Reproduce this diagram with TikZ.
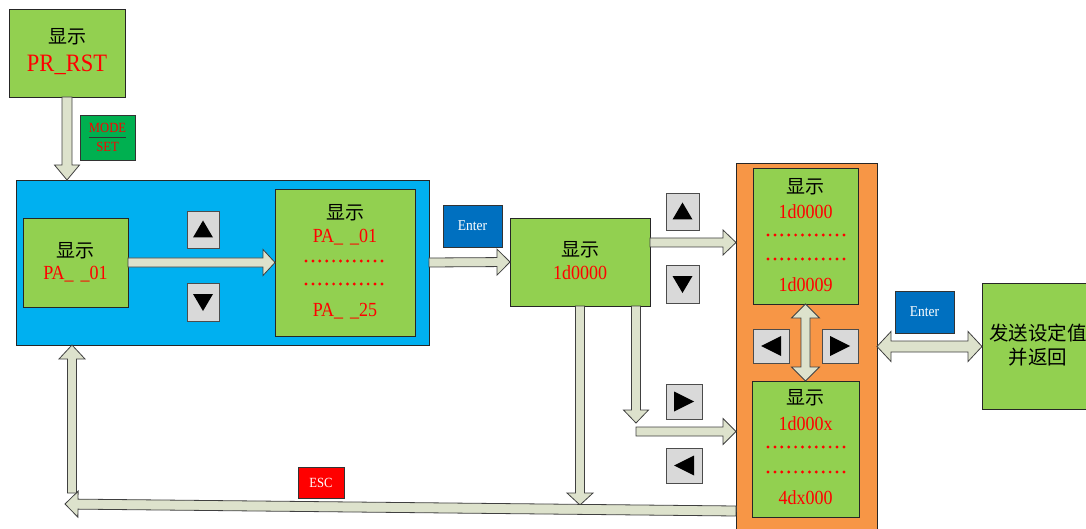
\documentclass[tikz,border=0pt]{standalone}
\usepackage{fontspec}
\setmainfont{Liberation Serif}[FakeStretch=0.9]
\newfontfamily\cjk{Noto Sans CJK SC}
\usetikzlibrary{calc,fit}
\definecolor{boxgreen}{HTML}{92D050}
\definecolor{bigblue}{HTML}{00B0F0}
\definecolor{bigorange}{HTML}{F79646}
\definecolor{btngray}{HTML}{D9D9D9}
\definecolor{enterblue}{HTML}{0070C0}
\definecolor{modegreen}{HTML}{00B050}
\definecolor{arrowfill}{RGB}{221,226,204}
\definecolor{txtred}{HTML}{FF0000}
\newcommand\fs[1]{\fontsize{#1}{#1}\selectfont}
\newcommand\gap{\hspace{0.35em}}
% block arrow: start, end, half shaft, half head, head length
\newcommand\blockarrow[5]{%
  \coordinate (bs) at (#1); \coordinate (be) at (#2);
  \coordinate (bh) at ($(be)!#5!(bs)$);
  \filldraw[arr] ($(bs)!#3!90:(be)$) -- ($(bh)!#3!90:(be)$) -- ($(bh)!#4!90:(be)$)
    -- (be) -- ($(bh)!#4!-90:(be)$) -- ($(bh)!#3!-90:(be)$) -- ($(bs)!#3!-90:(be)$) -- cycle;}
% double block arrow
\newcommand\dblockarrow[5]{%
  \coordinate (bs) at (#1); \coordinate (be) at (#2);
  \coordinate (bha) at ($(bs)!#5!(be)$);
  \coordinate (bhb) at ($(be)!#5!(bs)$);
  \filldraw[arr] (bs) -- ($(bha)!#4!90:(be)$) -- ($(bha)!#3!90:(be)$) -- ($(bhb)!#3!90:(be)$)
    -- ($(bhb)!#4!90:(be)$) -- (be) -- ($(bhb)!#4!-90:(be)$) -- ($(bhb)!#3!-90:(be)$)
    -- ($(bha)!#3!-90:(be)$) -- ($(bha)!#4!-90:(be)$) -- cycle;}
\tikzset{
  panel/.style={draw=black!85, line width=0.9pt, inner sep=0pt, outer sep=0pt},
  greenbox/.style={panel, fill=boxgreen},
  btn/.style={draw=black!70, fill=btngray, line width=0.9pt, inner sep=0pt},
  keybox/.style={draw=black!80, line width=0.8pt, inner sep=0pt, text=white},
  cn/.style={font=\cjk\fs{19}, inner sep=0pt},
  rd/.style={font=\fs{20}, text=txtred, inner sep=0pt},
  arr/.style={fill=arrowfill, draw=black!75, line width=0.8pt, line join=miter},
  dotrow/.style={draw=txtred, line width=3.2pt, line cap=round, dash pattern=on 0pt off 6.9pt},
  tri/.style={fill=black},
}
\begin{document}
\begin{tikzpicture}[x=1pt,y=-1pt]
\useasboundingbox (0,0) rectangle (1086,529);
\clip (0,0) rectangle (1086,529);

% containers
\node[panel, fill=bigblue, fit={(16,180) (429,345)}] (blue) {};
\node[panel, fill=bigorange, fit={(736,163) (877,545)}] (orange) {};

% top box
\node[greenbox, fit={(9,9) (125,97)}] (prrst) {};
\node[cn] (prrstA) at (67,37) {显示};
\node[rd, font=\fs{25}] (prrstB) at (67,65) {PR\_RST};
\node[panel, fill=modegreen, draw=black!80, fit={(80,115) (135,160)}] (mode) {};
\node[text=txtred, font=\fs{14}, inner sep=0pt] (modeA) at (107.5,128) {MODE};
\node[text=txtred, font=\fs{14}, inner sep=0pt] (modeB) at (107.5,147) {SET};
\draw[black!80, line width=0.8pt] (89,137.5) -- (126,137.5);

% blue content
\node[greenbox, fit={(23,218) (128,307)}] (box1) {};
\node[cn] (box1A) at (75.5,251) {显示};
\node[rd] (box1B) at (75.5,274) {PA\_\gap\_01};
\node[greenbox, fit={(275,189) (415,336)}] (box2) {};
\node[cn] (box2A) at (345,213) {显示};
\node[rd] (box2B) at (345,237) {PA\_\gap\_01};
\draw[dotrow] (306,261) -- (385,261);
\draw[dotrow] (306,284) -- (385,284);
\node[rd] (box2C) at (345,311) {PA\_\gap\_25};
\node[btn, fit={(187,211) (219,248)}] (bUp1) {};
\fill[tri] (bUp1.center) ++(0,-9) -- ++(10,17) -- ++(-20,0) -- cycle;
\node[btn, fit={(187,283) (219,321)}] (bDn1) {};
\fill[tri] (bDn1.center) ++(0,9) -- ++(10,-17) -- ++(-20,0) -- cycle;

% 1d0000 box
\node[greenbox, fit={(510,218) (650,306)}] (d0) {};
\node[cn] (d0A) at (580,250) {显示};
\node[rd] (d0B) at (580,273) {1d0000};
\node[keybox, fill=enterblue, fit={(443,205) (502,247)}] (enter1) {};
\node[text=white, font=\fs{15}, inner sep=0pt] (enter1t) at (enter1.center) {Enter};
\node[btn, fit={(666,193) (699,230)}] (bUp2) {};
\fill[tri] (bUp2.center) ++(0,-9) -- ++(10,17) -- ++(-20,0) -- cycle;
\node[btn, fit={(666,265) (699,303)}] (bDn2) {};
\fill[tri] (bDn2.center) ++(0,9) -- ++(10,-17) -- ++(-20,0) -- cycle;
\node[btn, fit={(666,384) (702,419)}] (bRt1) {};
\fill[tri] (bRt1.center) ++(10,0) -- ++(-20,-10) -- ++(0,20) -- cycle;
\node[btn, fit={(666,448) (702,483)}] (bLt1) {};
\fill[tri] (bLt1.center) ++(-10,0) -- ++(20,-10) -- ++(0,20) -- cycle;

% orange content
\node[greenbox, fit={(753,168) (858,304)}] (tg) {};
\node[cn] (tgA) at (805.5,187) {显示};
\node[rd] (tgB) at (805.5,212) {1d0000};
\draw[dotrow] (768,235) -- (846,235);
\draw[dotrow] (768,259) -- (846,259);
\node[rd] (tgC) at (805.5,285) {1d0009};
\node[greenbox, fit={(752,381) (859,517)}] (bg) {};
\node[cn] (bgA) at (805.5,398) {显示};
\node[rd] (bgB) at (805.5,424) {1d000x};
\draw[dotrow] (768,447) -- (846,447);
\draw[dotrow] (768,472) -- (846,472);
\node[rd] (bgC) at (805.5,498) {4dx000};
\node[btn, fit={(753,329) (789,363)}] (bLt2) {};
\fill[tri] (bLt2.center) ++(-10,0) -- ++(20,-10) -- ++(0,20) -- cycle;
\node[btn, fit={(822,329) (858,363)}] (bRt2) {};
\fill[tri] (bRt2.center) ++(10,0) -- ++(-20,-10) -- ++(0,20) -- cycle;

% final
\node[keybox, fill=enterblue, fit={(895,291) (954,333)}] (enter2) {};
\node[text=white, font=\fs{15}, inner sep=0pt] (enter2t) at (enter2.center) {Enter};
\node[greenbox, fit={(982,283) (1094,409)}] (final) {};
\node[cn, font=\cjk\fs{19.5}] (finalA) at (1038,333) {发送设定值};
\node[cn, font=\cjk\fs{19.5}] (finalB) at (1038,357) {并返回};

% ESC
\node[keybox, fill=txtred, fit={(298,467) (344,498)}] (esc) {};
\node[text=white, font=\fs{14}, inner sep=0pt] (esct) at (esc.center) {ESC};

% helper coordinates
\coordinate (c580top) at (d0.south -| 580,0);
\coordinate (c580bot) at (580,505);
\coordinate (c636top) at (d0.south -| 636,0);
\coordinate (c636bot) at (636,423);
\coordinate (c636h) at (636,431.5);
\coordinate (botR) at (orange.west |- 0,511);
\coordinate (botL) at (65,504);
\coordinate (upB) at (72,493);

% arrows
\blockarrow{prrst.south}{blue.north -| prrst.south}{5pt}{12.5pt}{15pt}
\blockarrow{box1.east}{box2.west}{4.5pt}{13pt}{12pt}
\blockarrow{blue.east}{d0.west}{4.5pt}{13pt}{13pt}
\blockarrow{d0.east |- 0,242.5}{orange.west |- 0,242.5}{4.5pt}{12.5pt}{13pt}
\blockarrow{c636top}{c636bot}{4.5pt}{12.5pt}{13pt}
\blockarrow{c636h}{orange.west |- c636h}{4.5pt}{13pt}{13pt}
\blockarrow{c580top}{c580bot}{4.5pt}{13pt}{12pt}
\blockarrow{botR}{botL}{5pt}{13pt}{13pt}
\blockarrow{upB}{blue.south -| upB}{4.5pt}{13pt}{14pt}
\dblockarrow{tg.south}{bg.north}{4.5pt}{14pt}{14pt}
\dblockarrow{orange.east |- 0,346.5}{final.west |- 0,346.5}{5.5pt}{15pt}{14pt}
\end{tikzpicture}
\end{document}
